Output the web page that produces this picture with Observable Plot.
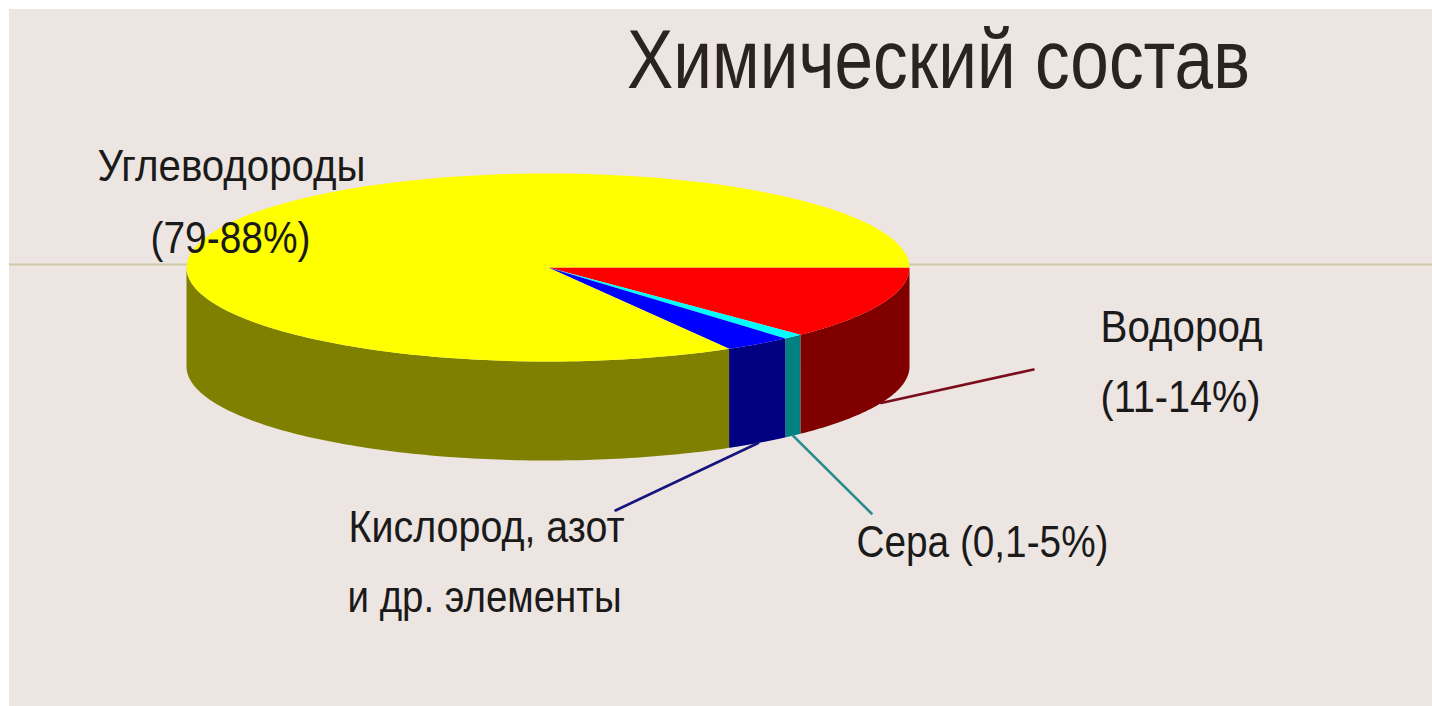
<!DOCTYPE html>
<html lang="ru">
<head>
<meta charset="utf-8">
<title>Химический состав</title>
<script src="https://cdn.jsdelivr.net/npm/d3@7"></script>
<script src="https://cdn.jsdelivr.net/npm/@observablehq/plot@0.6"></script>
<style>
  html, body { margin: 0; padding: 0; background: #fff; overflow: hidden; }
  #chart { position: absolute; left: 9px; top: 9px; }
  #chart svg { display: block; background: #ede5e1; }
</style>
</head>
<body>
<div id="chart"></div>
<script>
// Slices, clockwise from the pie's right edge
const sliceNames = ["Водород", "Сера", "Кислород и др.", "Углеводороды"];
const sliceShares = [12.7, 0.9, 3.05, 83.35];
const topColors = ["#ff0000", "#00ffff", "#0000ff", "#ffff00"];
const sideColors = ["#800000", "#008080", "#000080", "#808000"];
const leaderColors = ["#7a0c1c", "#2a8c92", "#14147c"];

// Text
const titleText = "Химический состав";
const labelLines = ["Углеводороды", "(79-88%)", "Водород", "(11-14%)", "Сера (0,1-5%)", "Кислород, азот", "и др. элементы"];

// Page layout, in page pixels
const W = 1432, H = 706, INSET = 9;
const pie = {cx: 547.5, cy: 267, rx: 361.5, ry: 94, depth: 99};
const labelX = [231, 230, 1181, 1180, 982, 486, 484];
const labelY = [166, 238, 327, 397, 542, 527, 597];
const labelWidths = [268, 160, 162, 160, 252, 276, 274];
const titleWidth = 623;
const leaderEndX = [1033, 871, 615];
const leaderEndY = [369, 513, 510];
const font = "'Liberation Sans', Arial, sans-serif";

// Slice boundaries in degrees along the ellipse
const ends = d3.cumsum(sliceShares, (s) => s * 3.6);
const starts = ends.map((e, i) => e - sliceShares[i] * 3.6);
const rim = (deg) => {
  const a = deg * Math.PI / 180;
  return [pie.cx + pie.rx * Math.cos(a), pie.cy + pie.ry * Math.sin(a)];
};
const arc = (from, to) => d3.range(0, 121).map((i) => rim(from + (to - from) * i / 120));

// Top face of each slice: centre, then the outer arc
const topFaces = sliceNames.flatMap((name, i) =>
  [[pie.cx, pie.cy], ...arc(starts[i], ends[i])].map(([x, y]) => ({name, x, y})));

// Side wall: only the front half of the rim, from 0 to 180 degrees
const sideFaces = sliceNames.flatMap((name, i) => {
  const to = Math.min(ends[i], 180);
  const edge = arc(starts[i], to);
  return [...edge, ...edge.slice().reverse().map(([x, y]) => [x, y + pie.depth])]
    .map(([x, y]) => ({name, x, y}));
});

// Leader lines start on the lower rim at the middle of their slice
const leaders = leaderEndX.flatMap((ex, i) => {
  const [sx, sy] = rim((starts[i] + ends[i]) / 2);
  return [{name: sliceNames[i], x: sx, y: sy + pie.depth}, {name: sliceNames[i], x: ex, y: leaderEndY[i]}];
});

const labels = labelLines.map((text, i) => ({text, x: labelX[i], y: labelY[i]}));

const chart = Plot.plot({
  width: W - INSET,
  height: H - INSET,
  margin: 0,
  x: {domain: [INSET, W], range: [0, W - INSET], axis: null},
  y: {domain: [INSET, H], range: [0, H - INSET], axis: null},
  style: {background: "#ede5e1"},
  marks: [
    Plot.ruleY([264], {x1: INSET, x2: W, stroke: "#cdc9a8", strokeWidth: 2}),
    Plot.line(sideFaces, {x: "x", y: "y", z: "name", fill: (d) => sideColors[sliceNames.indexOf(d.name)], stroke: null}),
    Plot.line(topFaces, {x: "x", y: "y", z: "name", fill: (d) => topColors[sliceNames.indexOf(d.name)], stroke: null}),
    Plot.line(leaders, {x: "x", y: "y", z: "name", stroke: (d) => leaderColors[sliceNames.indexOf(d.name)], strokeWidth: 2.6}),
    Plot.text(labels, {x: "x", y: "y", text: "text", fontFamily: font, fontSize: 44, fill: "#1a1a1a", lineAnchor: "middle", className: "slice-label"}),
    Plot.text([titleText], {x: [938], y: [61], text: (d) => d, fontFamily: font, fontSize: 84, fill: "#2a2320", lineAnchor: "middle", className: "chart-title"})
  ]
});

// The lettering is condensed: fit each string to its set width
const fitText = (node, width) => {
  node.setAttribute("textLength", width);
  node.setAttribute("lengthAdjust", "spacingAndGlyphs");
};
chart.querySelectorAll(".slice-label text").forEach((node, i) => fitText(node, labelWidths[i]));
chart.querySelectorAll(".chart-title text").forEach((node) => fitText(node, titleWidth));

document.getElementById("chart").append(chart);
</script>
</body>
</html>
